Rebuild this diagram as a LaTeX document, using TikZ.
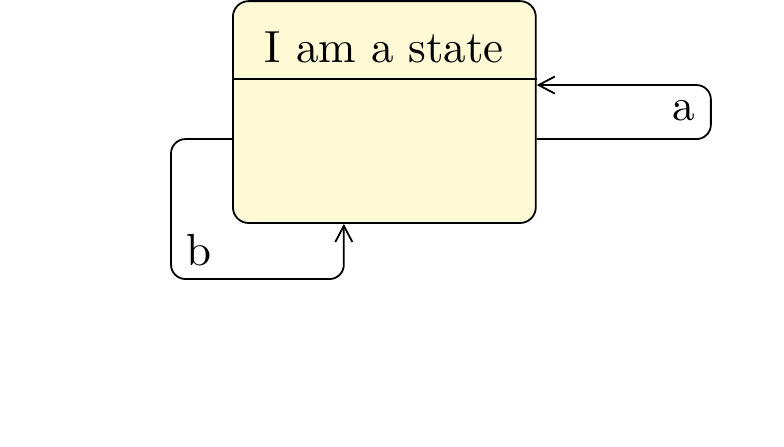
\documentclass[tikz,border=0pt]{standalone}
\usetikzlibrary{arrows.meta, positioning, calc}
\usepackage{xcolor}
\definecolor{sfill}{RGB}{255,250,214}

\begin{document}
\begin{tikzpicture}[x=1pt,y=1pt,
  statebox/.style={draw,rounded corners=3.5pt,fill=sfill,minimum width=67.3pt,
              minimum height=49.3pt,inner sep=0pt},
  arr/.style={-{Straight Barb[length=3.6pt,width=3.8pt]},rounded corners=3.2pt}
]
\useasboundingbox (0,0) rectangle (174.2,-99.1);
\node[statebox] (st) at (85.4,-24.9) {};
\node (title) at (85.4,-10.6) {I am a state};
\draw (st.west |- 0,-17.5) -- (st.east |- 0,-17.5);
% transition a
\coordinate (aout) at ([yshift=-6pt]st.east);
\coordinate (ain) at ([yshift=6pt]st.east);
\draw[arr] (aout) -- ++(38.7,0) |- (ain);
\node (la) at (152,-24.5) {a};
% transition b
\coordinate (bout) at ([yshift=-6pt]st.west);
\coordinate (bin) at ([xshift=-9pt]st.south);
\coordinate (lb) at (38,-62);
\draw[arr] (bout) -| (lb) -| (bin);
\node (bl) at (44.2,-55.6) {b};
\end{tikzpicture}
\end{document}
